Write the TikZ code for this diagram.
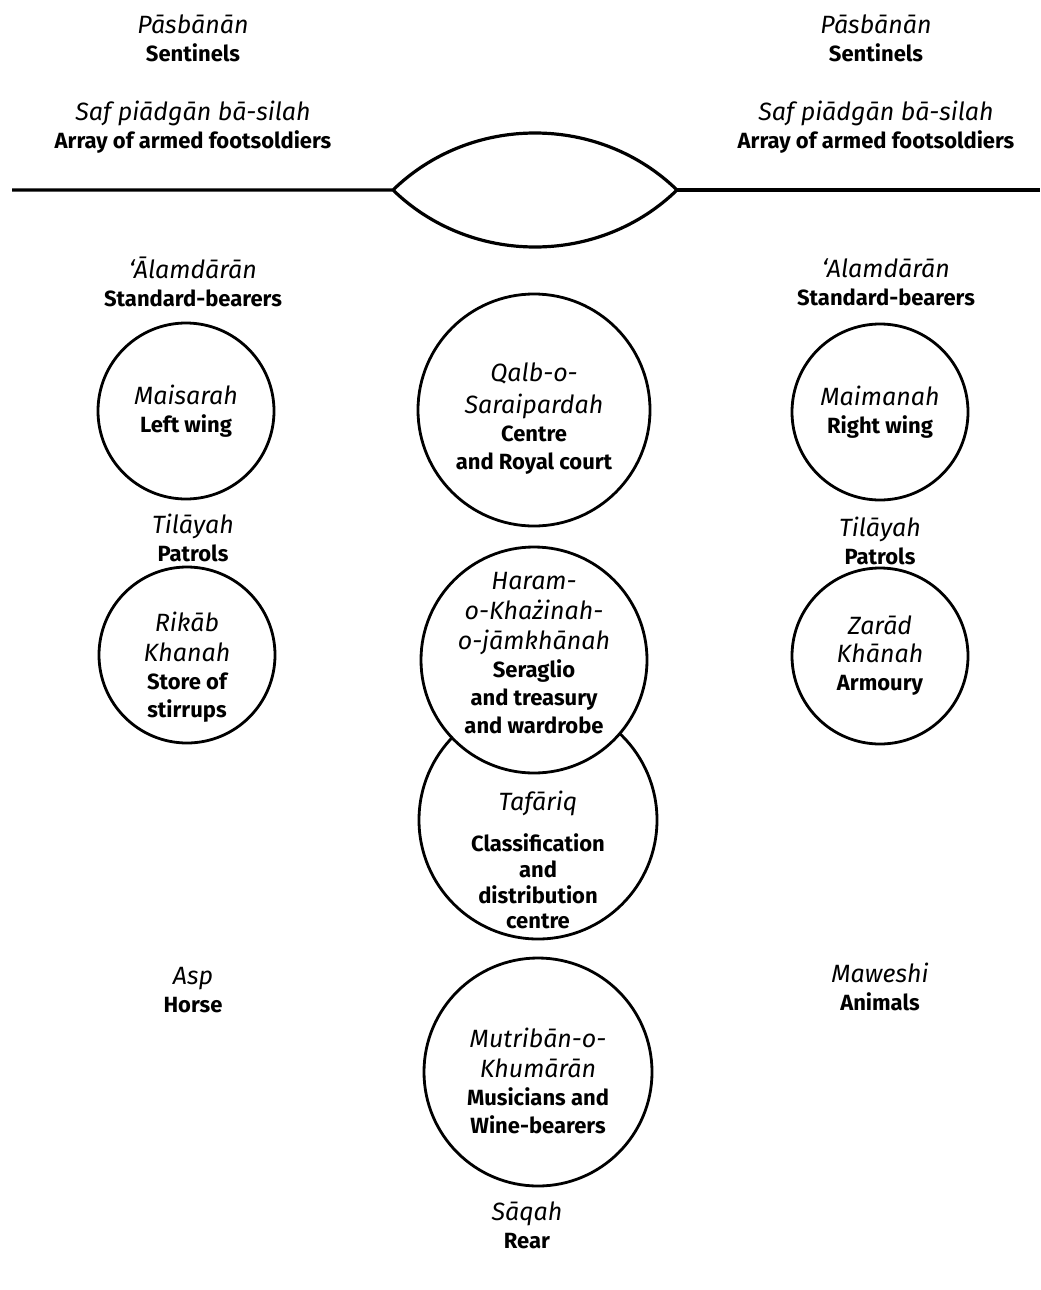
\documentclass[tikz,border=0pt]{standalone}
\usepackage{fontspec}
\setmainfont{Fira Sans}
\usetikzlibrary{positioning}

\newcommand{\translit}[1]{{\mdseries\itshape\fontsize{12.5}{14}\selectfont #1}}

\begin{document}
\begin{tikzpicture}[
    x=0.5pt, y=-0.5pt,
    lbl/.style={align=center, inner sep=0pt, font=\bfseries\fontsize{11}{14}\selectfont},
    ring/.style={circle, draw, line width=1.4pt, fill=white, inner sep=0pt, align=center, font=\bfseries\fontsize{11}{14}\selectfont},
    small/.style={ring, minimum size=88pt},
    big/.style={ring, minimum size=115pt},
    front/.style={line width=1.6pt},
  ]
  \useasboundingbox (0,0) rectangle (1040,1290);

  % front line
  \node[lbl] (pasL) at (193,38) {\translit{Pāsbānān}\\Sentinels};
  \node[lbl] (safL) at (193,127) {\translit{Saf piādgān bā-silah}\\Array of armed footsoldiers};
  \node[lbl] (pasR) at (876,38) {\translit{Pāsbānān}\\Sentinels};
  \node[lbl] (safR) at (876,127) {\translit{Saf piādgān bā-silah}\\Array of armed footsoldiers};
  \coordinate (lineL) at (12,190);
  \coordinate (tipL) at (393,190);
  \coordinate (tipR) at (677,190);
  \coordinate (lineR) at (1040,190);
  \coordinate (lensT) at (535,133);
  \coordinate (lensB) at (535,247);
  \draw[front] (lineL) -- (tipL)
    .. controls (431,153) and (482,133) .. (lensT)
    .. controls (588,133) and (639,153) .. (tipR)
    .. controls (639,227) and (588,247) .. (lensB)
    .. controls (482,247) and (431,227) .. (tipL);
  \draw[front] (tipR) -- (lineR);

  % left wing
  \node[lbl] (alamL) at (193,282) {\translit{‘Ālamdārān}\\Standard-bearers};
  \node[small] (maisarah) at (186,411) {\translit{Maisarah}\\Left wing};
  \node[lbl] (tilL) at (193,538) {\translit{Tilāyah}\\Patrols};
  \node[small] (rikab) at (187,655) {};
  \node[lbl] (rikabT) at (187,667) {\translit{Rikāb}\\[1pt]\translit{Khanah}\\Store of\\stirrups};
  \node[lbl] (asp) at (193,990) {\translit{Asp}\\Horse};

  % right wing
  \node[lbl] (alamR) at (886,282) {\translit{‘Alamdārān}\\Standard-bearers};
  \node[small] (maimanah) at (880,412) {\translit{Maimanah}\\Right wing};
  \node[lbl] (tilR) at (880,541) {\translit{Tilāyah}\\Patrols};
  \node[small] (zarad) at (880,656) {\translit{Zarād}\\\translit{Khānah}\\Armoury};
  \node[lbl] (mawe) at (880,987) {\translit{Maweshi}\\Animals};

  % centre column
  \node[big, minimum size=116pt] (qalb) at (534,410) {};
  \node[lbl] (qalbT) at (534,419) {\translit{Qalb-o-}\\[2pt]\translit{Saraipardah}\\Centre\\and Royal court};
  \node[big, minimum size=119pt] (tafariq) at (538,820) {};
  \node[lbl, font=\bfseries\fontsize{11}{12.8}\selectfont] (tafariqT) at (538,860) {\translit{Tafāriq}\\[8pt]Classification\\and\\distribution\\centre};
  \node[big, minimum size=113pt] (haram) at (534,660) {};
  \node[lbl] (haramT) at (534,653) {\translit{Haram-}\\[1pt]\translit{o-Khażinah-}\\[1pt]\translit{o-jāmkhānah}\\Seraglio\\and treasury\\and wardrobe};
  \node[big, minimum size=114pt] (mutriban) at (538,1072) {};
  \node[lbl] (mutribanT) at (538,1081) {\translit{Mutribān-o-}\\[1pt]\translit{Khumārān}\\Musicians and\\Wine-bearers};
  \node[lbl] (saqah) at (527,1225) {\translit{Sāqah}\\Rear};
\end{tikzpicture}
\end{document}
